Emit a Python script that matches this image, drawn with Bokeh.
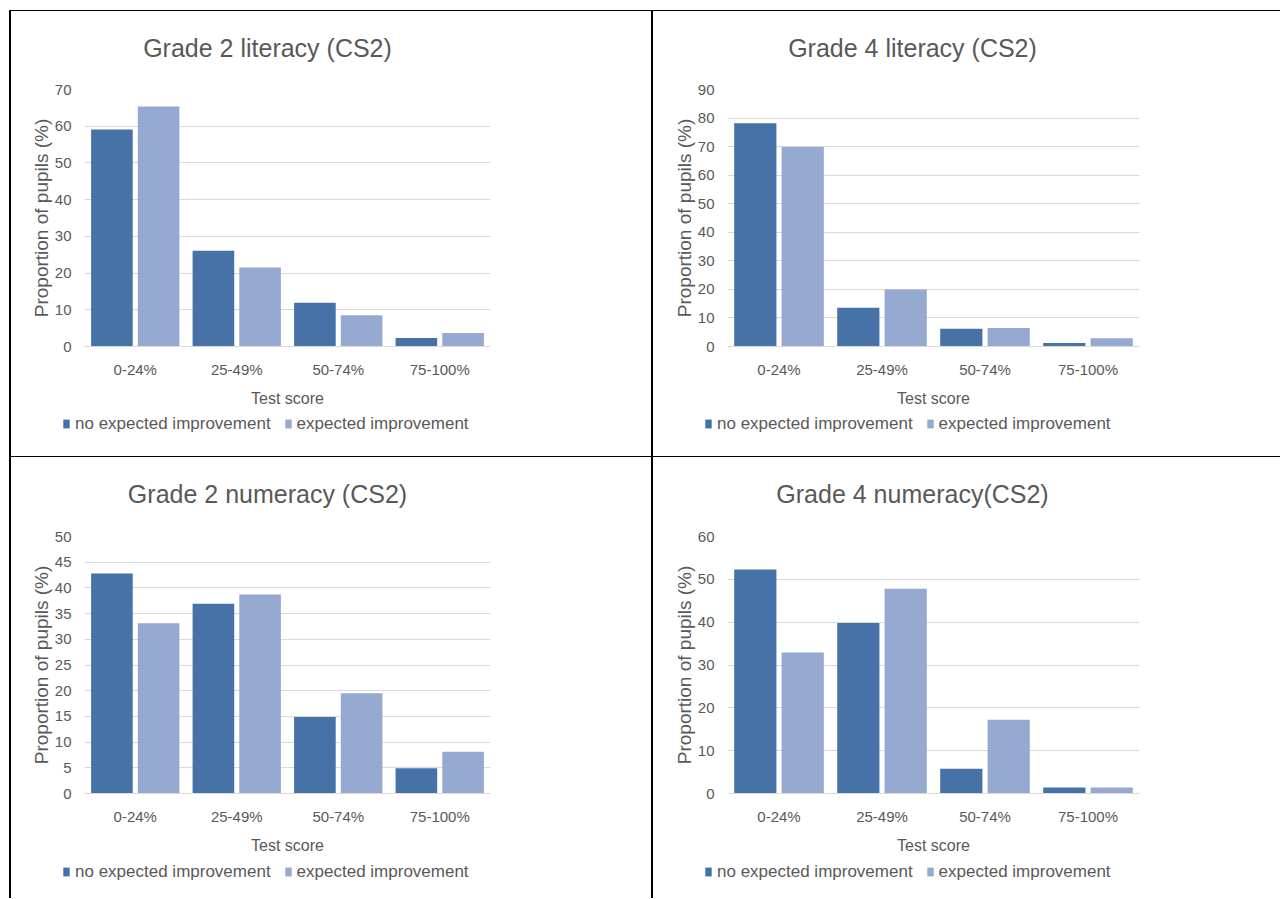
from bokeh.plotting import figure
from bokeh.models import (ColumnDataSource, FactorRange, Range1d, FixedTicker,
                          Legend, LegendItem, Div, Label)
from bokeh.layouts import row, column
from bokeh.transform import dodge
from bokeh.embed import file_html
from bokeh.resources import INLINE

# ---------------- data ----------------
categories = ["0-24%", "25-49%", "50-74%", "75-100%"]
series_names = ["no expected improvement", "expected improvement"]

g2_lit_no = [59.1, 26.1, 11.9, 2.3]
g2_lit_exp = [65.4, 21.5, 8.5, 3.7]

g4_lit_no = [78.2, 13.6, 6.2, 1.2]
g4_lit_exp = [69.9, 20.0, 6.5, 2.9]

g2_num_no = [42.8, 36.9, 14.9, 4.9]
g2_num_exp = [33.1, 38.7, 19.5, 8.1]

g4_num_no = [52.3, 39.8, 5.8, 1.4]
g4_num_exp = [32.9, 47.8, 17.2, 1.4]

titles = ["Grade 2 literacy (CS2)", "Grade 4 literacy (CS2)",
          "Grade 2 numeracy (CS2)", "Grade 4 numeracy(CS2)"]
y_ticks_g2_lit = [0, 10, 20, 30, 40, 50, 60, 70]
y_ticks_g4_lit = [0, 10, 20, 30, 40, 50, 60, 70, 80, 90]
y_ticks_g2_num = [0, 5, 10, 15, 20, 25, 30, 35, 40, 45, 50]
y_ticks_g4_num = [0, 10, 20, 30, 40, 50, 60]
x_label = "Test score"
y_label = "Proportion of pupils (%)"

# ---------------- style ----------------
FONT = "Liberation Sans"
TXT = "#595959"
DARK = "#4672A8"
LIGHT = "#95A9D1"
GRID = "#D9D9D9"


def blank_fig(w, h, x_range, y_range):
    f = figure(width=w, height=h, x_range=x_range, y_range=y_range,
               title=None, output_backend="svg", toolbar_location=None,
               x_axis_location=None, y_axis_location=None,
               min_border=0, min_border_left=0, min_border_right=0,
               min_border_top=0, min_border_bottom=0,
               outline_line_color=None, background_fill_color="white",
               border_fill_color="white")
    f.frame_align = False
    f.xgrid.visible = False
    f.ygrid.visible = False
    return f


def make_cell(title, no_vals, exp_vals, ticks, width, title_h, title_cx,
              main_top, frame_h, main_bottom, left, frame_w,
              legend_h, legend_cy, legend_x):
    src = ColumnDataSource(dict(cat=categories, no=no_vals, exp=exp_vals))

    # ---- title strip ----
    ft = blank_fig(width, title_h, Range1d(0, width), Range1d(0, title_h))
    ft.add_layout(Label(x=title_cx, y=title_h - 36, text=title,
                        text_align="center", text_baseline="middle",
                        text_font=FONT, text_font_size="25px",
                        text_color=TXT))

    # ---- chart ----
    main_h = main_top + frame_h + main_bottom
    p = figure(x_range=FactorRange(factors=categories, range_padding=0),
               y_range=Range1d(0, ticks[-1]),
               width=width, height=main_h, title=None,
               output_backend="svg", toolbar_location=None,
               min_border_left=left, min_border_right=width - left - frame_w,
               min_border_top=main_top, min_border_bottom=main_bottom,
               outline_line_color=None,
               background_fill_color="white", border_fill_color="white")
    p.frame_align = False
    p.vbar(x=dodge("cat", -0.23, range=p.x_range), top="no", width=0.41,
           source=src, fill_color=DARK, line_color=None)
    p.vbar(x=dodge("cat", 0.23, range=p.x_range), top="exp", width=0.41,
           source=src, fill_color=LIGHT, line_color=None)

    p.xgrid.grid_line_color = None
    p.ygrid.grid_line_color = GRID
    p.ygrid.grid_line_width = 1

    xa = p.xaxis[0]
    xa.axis_label = x_label
    xa.axis_label_text_font = FONT
    xa.axis_label_text_font_size = "16px"
    xa.axis_label_text_font_style = "normal"
    xa.axis_label_text_color = TXT
    xa.axis_label_standoff = 9
    xa.major_label_text_font = FONT
    xa.major_label_text_font_size = "15px"
    xa.major_label_text_color = TXT
    xa.major_label_standoff = 14
    xa.major_tick_line_color = None
    xa.major_tick_out = 0
    xa.major_tick_in = 0
    xa.minor_tick_line_color = None
    xa.axis_line_color = GRID

    ya = p.yaxis[0]
    ya.ticker = FixedTicker(ticks=ticks)
    ya.axis_label = y_label
    ya.axis_label_text_font = FONT
    ya.axis_label_text_font_size = "19px"
    ya.axis_label_text_font_style = "normal"
    ya.axis_label_text_color = TXT
    ya.axis_label_standoff = 0
    ya.major_label_text_font = FONT
    ya.major_label_text_font_size = "15px"
    ya.major_label_text_color = TXT
    ya.major_label_standoff = 13
    ya.major_tick_line_color = None
    ya.major_tick_out = 0
    ya.major_tick_in = 0
    ya.minor_tick_line_color = None
    ya.axis_line_color = None

    # ---- legend strip (legend keys come from hidden copies of the series) ----
    fl = blank_fig(width, legend_h, FactorRange(factors=categories),
                   Range1d(0, 1))
    l1 = fl.vbar(x="cat", top="no", width=0.4, source=src,
                 fill_color=DARK, line_color=None, visible=False)
    l2 = fl.vbar(x="cat", top="exp", width=0.4, source=src,
                 fill_color=LIGHT, line_color=None, visible=False)
    item_h = 17
    legend = Legend(items=[LegendItem(label=series_names[0], renderers=[l1]),
                           LegendItem(label=series_names[1], renderers=[l2])],
                    orientation="horizontal",
                    location=(legend_x, legend_h - legend_cy - item_h / 2),
                    padding=0, margin=0, spacing=13, label_standoff=5,
                    glyph_width=8, glyph_height=11, label_height=item_h,
                    label_text_font=FONT, label_text_font_size="17px",
                    label_text_color=TXT, border_line_color=None,
                    background_fill_alpha=0, inactive_fill_alpha=0)
    fl.add_layout(legend)

    return column(ft, p, fl, spacing=0)


H1 = 445
H2 = 441
W1 = 640
W2 = 627
TITLE_H = 66
FRAME_H = 257
MAIN_BOTTOM = 66

# row 1: frame top 78 px below cell top; row 2: 79 px
c1 = make_cell(titles[0], g2_lit_no, g2_lit_exp, y_ticks_g2_lit, W1, TITLE_H, 256,
               12, FRAME_H, MAIN_BOTTOM, 73, 406,
               H1 - TITLE_H - 12 - FRAME_H - MAIN_BOTTOM, 13, 51)
c2 = make_cell(titles[1], g4_lit_no, g4_lit_exp, y_ticks_g4_lit, W2, TITLE_H, 259,
               12, FRAME_H, MAIN_BOTTOM, 74, 412,
               H1 - TITLE_H - 12 - FRAME_H - MAIN_BOTTOM, 13, 51)
c3 = make_cell(titles[2], g2_num_no, g2_num_exp, y_ticks_g2_num, W1, TITLE_H, 256,
               13, FRAME_H, MAIN_BOTTOM, 73, 406,
               H2 - TITLE_H - 13 - FRAME_H - MAIN_BOTTOM, 14, 51)
c4 = make_cell(titles[3], g4_num_no, g4_num_exp, y_ticks_g4_num, W2, TITLE_H, 259,
               13, FRAME_H, MAIN_BOTTOM, 74, 412,
               H2 - TITLE_H - 13 - FRAME_H - MAIN_BOTTOM, 14, 51)


def box(w, h, color):
    return Div(text="", width=w, height=h, margin=0,
               styles={"background-color": color})


LEFT = 9
TOTAL_W = LEFT + 2 + W1 + 2 + W2

layout = column(
    box(TOTAL_W, 10, "white"),
    row(box(LEFT, 1, "white"), box(TOTAL_W - LEFT, 1, "black"), spacing=0),
    row(box(LEFT, H1, "white"), box(2, H1, "black"), c1, box(2, H1, "black"), c2, spacing=0),
    row(box(LEFT, 1, "white"), box(TOTAL_W - LEFT, 1, "black"), spacing=0),
    row(box(LEFT, H2, "white"), box(2, H2, "black"), c3, box(2, H2, "black"), c4, spacing=0),
    spacing=0,
)

open("out.html", "w").write(file_html(layout, INLINE))
